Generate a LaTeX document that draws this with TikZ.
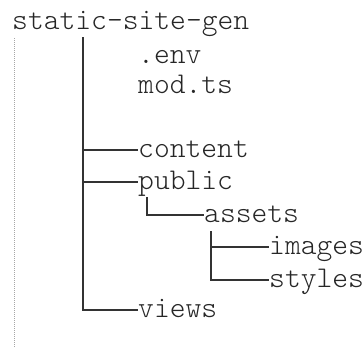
\documentclass[tikz,border=0pt]{standalone}
\usepackage{fontspec}
\newfontfamily\treefont{Latin Modern Mono Light}
\begin{document}
\begin{tikzpicture}[x=1pt,y=-1pt,
  entry/.style={anchor=base west,inner sep=0pt,text=black!85,
    font=\treefont\fontsize{30.1}{34}\selectfont},
  branch/.style={draw=black!80,line width=1.6pt},
  guide/.style={draw=black!35,line width=1pt,dash pattern=on 1pt off 1pt}]
\useasboundingbox (0,0) rectangle (364,348);
% indentation guide
\coordinate (guidetop) at (14,38);
\coordinate (guidebot) at (14,348);
\draw[guide] (guidetop) -- (guidebot);
% entries
\node[entry] (root)    at (12,29)  {static-site-gen};
\node[entry] (env)     at (138,63) {.env};
\node[entry] (modts)   at (138,93) {mod.ts};
\node[entry] (content) at (138,157) {content};
\node[entry] (public)  at (138,189) {public};
\node[entry] (assets)  at (204,222) {assets};
\node[entry] (images)  at (269,254) {images};
\node[entry] (styles)  at (269,287) {styles};
\node[entry] (views)   at (138,317) {views};
% stems
\coordinate (rootstem)   at (83,37);
\coordinate (publicstem) at (147,197);
\coordinate (assetstem)  at (211,231);
% connectors
\draw[branch] (rootstem) |- ([yshift=7pt]content.base west);
\draw[branch] (rootstem) |- ([yshift=7pt]public.base west);
\draw[branch] (rootstem) |- ([yshift=7pt]views.base west);
\draw[branch] (publicstem) |- ([yshift=7pt]assets.base west);
\draw[branch] (assetstem) |- ([yshift=7pt]images.base west);
\draw[branch] (assetstem) |- ([yshift=7pt]styles.base west);
\end{tikzpicture}
\end{document}
